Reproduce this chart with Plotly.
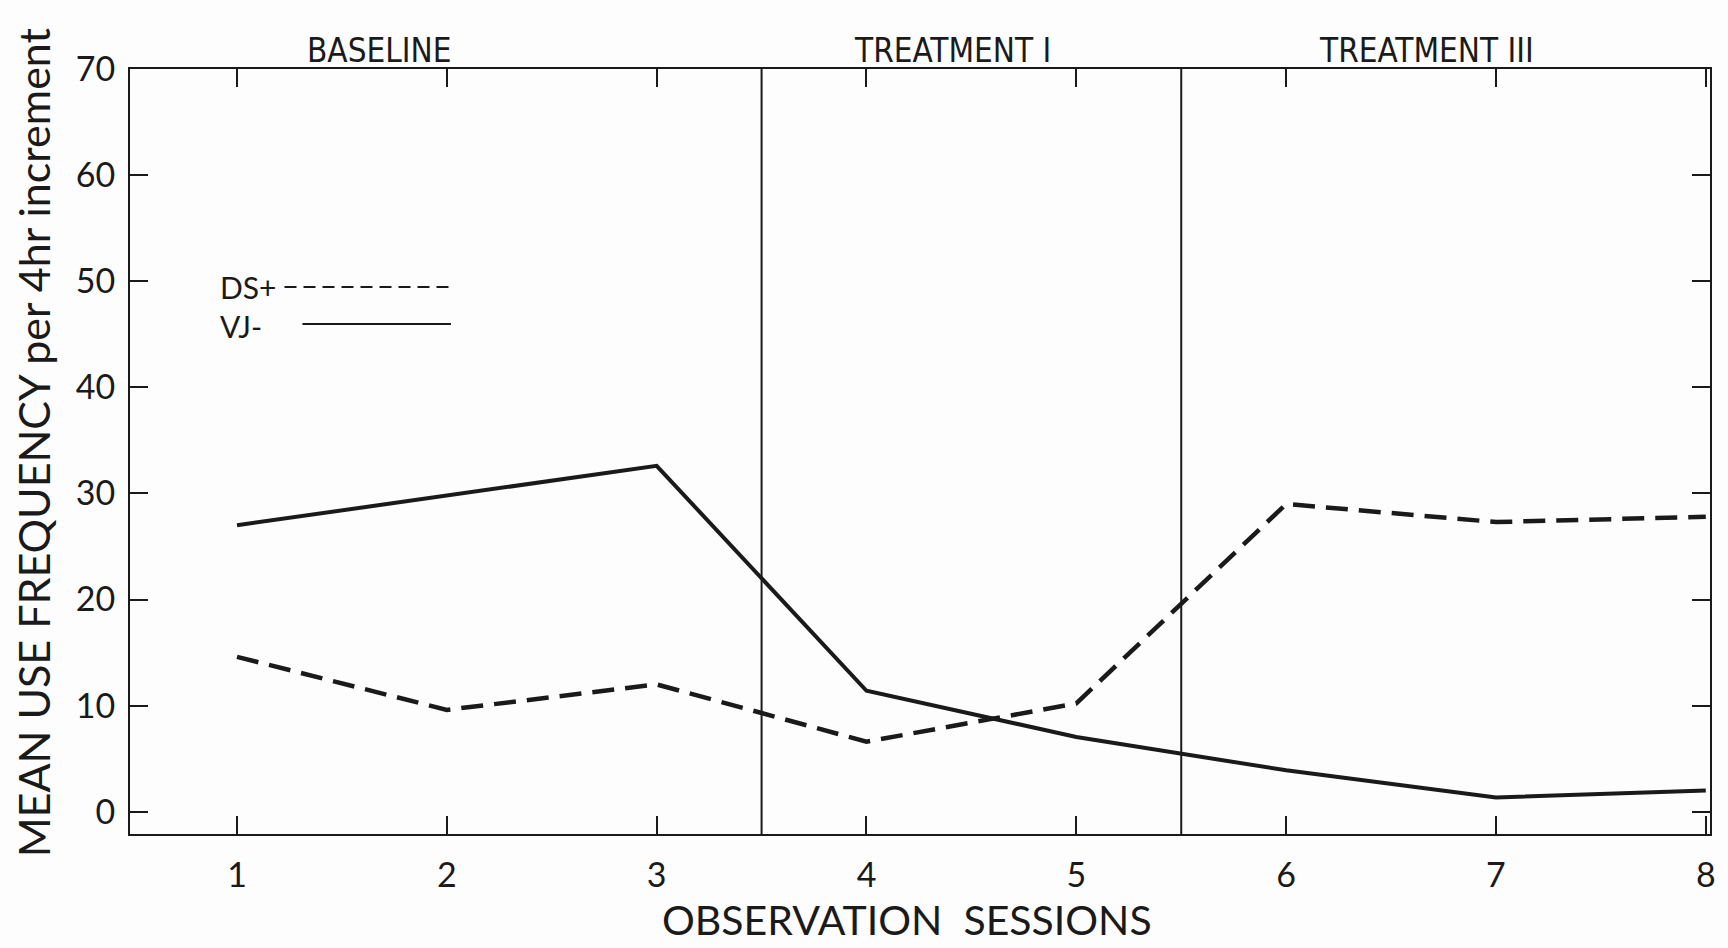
import plotly.graph_objects as go

sessions = [1, 2, 3, 4, 5, 6, 7, 8]
ds_plus = [14.6, 9.6, 12.0, 6.6, 10.2, 29.0, 27.3, 27.8]
vj_minus = [27.0, 29.8, 32.6, 11.4, 7.05, 3.9, 1.35, 2.0]
y_ticks = [0, 10, 20, 30, 40, 50, 60, 70]
x_tick_labels = ["1", "2", "3", "4", "5", "6", "7", "8"]
phase_bounds = [3.5, 5.5]
phase_labels = ["BASELINE", "TREATMENT I", "TREATMENT III"]
phase_label_x = [1.68, 4.41, 6.67]

W, H = 1728, 948
L, R, T, B = 130, 13, 69, 114
pw, ph = W - L - R, H - T - B

fig = go.Figure()
fig.add_trace(go.Scatter(x=sessions, y=ds_plus, mode="lines", name="DS+",
                         line=dict(color="#1a1a1a", width=4.5, dash="22px,11px"),
                         showlegend=False))
fig.add_trace(go.Scatter(x=sessions, y=vj_minus, mode="lines", name="VJ-",
                         line=dict(color="#1a1a1a", width=4), showlegend=False))

for xb in phase_bounds:
    fig.add_shape(type="line", x0=xb, x1=xb, y0=0, y1=1, xref="x", yref="paper",
                  line=dict(color="#1a1a1a", width=2))

font_main = "Lato, DejaVu Sans, sans-serif"
font_cond = "DejaVu Sans Condensed, Liberation Sans Narrow, sans-serif"

for lbl, xl in zip(phase_labels, phase_label_x):
    fig.add_annotation(x=xl, y=1.0, xref="x", yref="paper", text=lbl,
                       showarrow=False, yanchor="bottom", yshift=-3,
                       font=dict(family=font_cond, size=33, color="#1a1a1a"))

def px_x(p):
    return (p - L) / pw

def px_y(p):
    return (H - B - p) / ph

fig.add_annotation(x=px_x(218), y=px_y(306), xref="paper", yref="paper",
                   text="DS+<br>VJ-", align="left",
                   showarrow=False, xanchor="left", yanchor="middle",
                   font=dict(family=font_main, size=30, color="#1a1a1a"))
fig.add_shape(type="line", xref="paper", yref="paper", x0=px_x(285), x1=px_x(452),
              y0=px_y(287), y1=px_y(287), line=dict(color="#1a1a1a", width=2, dash="12px,7px"))
fig.add_shape(type="line", xref="paper", yref="paper", x0=px_x(303), x1=px_x(452),
              y0=px_y(324), y1=px_y(324), line=dict(color="#1a1a1a", width=2))

fig.add_annotation(x=px_x(33), y=px_y(443), xref="paper", yref="paper",
                   text="MEAN USE FREQUENCY per 4hr increment", textangle=-90,
                   showarrow=False, xanchor="center", yanchor="middle",
                   font=dict(family=font_main, size=43, color="#1a1a1a"))

fig.add_annotation(x=px_x(909), y=px_y(919), xref="paper", yref="paper",
                   text="OBSERVATION  SESSIONS",
                   showarrow=False, xanchor="center", yanchor="middle",
                   font=dict(family=font_main, size=41, color="#1a1a1a"))

fig.update_layout(
    width=W, height=H,
    margin=dict(l=L, r=R, t=T, b=B),
    paper_bgcolor="#fdfdfd", plot_bgcolor="#fdfdfd",
    font=dict(family=font_main, color="#1a1a1a"),
    xaxis=dict(range=[0.49, 8.02], tickvals=sessions, ticktext=x_tick_labels,
               ticks="inside", ticklen=18, tickwidth=2, tickcolor="#1a1a1a",
               showline=True, linecolor="#1a1a1a", linewidth=2, mirror="ticks",
               showgrid=False, zeroline=False,
               tickfont=dict(size=34), ticklabelstandoff=10),
    yaxis=dict(range=[-2.1, 70], tickvals=y_ticks,
               ticks="inside", ticklen=18, tickwidth=2, tickcolor="#1a1a1a",
               showline=True, linecolor="#1a1a1a", linewidth=2, mirror="ticks",
               showgrid=False, zeroline=False,
               tickfont=dict(size=34), ticklabelstandoff=6),
)

fig.write_html("out.html")
